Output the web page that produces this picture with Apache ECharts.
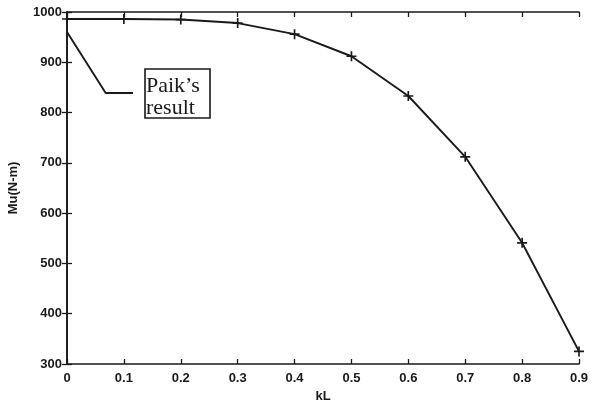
<!DOCTYPE html>
<html>
<head>
<meta charset="utf-8">
<script src="https://cdn.jsdelivr.net/npm/echarts@6/dist/echarts.min.js"></script>
<style>html,body{margin:0;padding:0;background:#fff;}#c{width:591px;height:402px;}</style>
</head>
<body>
<div id="c"></div>
<script>
var kL = [0, 0.1, 0.2, 0.3, 0.4, 0.5, 0.6, 0.7, 0.8, 0.9];
var Mu = [986, 986, 985, 978, 956, 912, 833, 712, 541, 325];
var paikX = [0, 0.068, 0.116];
var paikY = [960, 839, 839];
var xTicks = ['0', '0.1', '0.2', '0.3', '0.4', '0.5', '0.6', '0.7', '0.8', '0.9'];
var yTicks = ['300', '400', '500', '600', '700', '800', '900', '1000'];

var chart = echarts.init(document.getElementById('c'), null, {renderer: 'canvas'});
var ink = '#1a1a1a';
var labelFont = {color: ink, fontFamily: 'Liberation Sans', fontWeight: 'bold', fontSize: 13};
var nameFont = {color: ink, fontFamily: 'Liberation Sans', fontWeight: 'bold', fontSize: 13};
function mainData() { return kL.map(function (x, i) { return [x, Mu[i]]; }); }
function paikData() { return paikX.map(function (x, i) { return [x, paikY[i]]; }); }
var axisLine = {show: true, lineStyle: {color: ink, width: 1.6}};
var tick = {show: true, inside: true, length: 5, lineStyle: {color: ink, width: 1.3}};
chart.setOption({
  animation: false,
  backgroundColor: '#fff',
  grid: {left: 67, right: 12, top: 12, bottom: 38, containLabel: false, outerBoundsMode: 'none'},
  xAxis: [{
    type: 'value', min: 0, max: 0.9, interval: 0.1, position: 'bottom',
    axisLine: axisLine, axisTick: tick, splitLine: {show: false},
    axisLabel: Object.assign({margin: 8, formatter: function (v) {
      var i = Math.round(v * 10); return xTicks[i] !== undefined ? xTicks[i] : ''; }}, labelFont),
    name: 'kL', nameLocation: 'middle', nameGap: 26,
    nameTextStyle: nameFont
  }, {
    type: 'value', min: 0, max: 0.9, interval: 0.1, position: 'top',
    axisLine: axisLine, axisTick: tick, splitLine: {show: false}, axisLabel: {show: false}
  }],
  yAxis: [{
    type: 'value', min: 300, max: 1000, interval: 100, position: 'left',
    axisLine: axisLine, axisTick: tick, splitLine: {show: false},
    axisLabel: Object.assign({margin: 5, formatter: function (v) {
      var i = Math.round((v - 300) / 100); return yTicks[i] !== undefined ? yTicks[i] : ''; }}, labelFont),
    name: 'Mu(N-m)', nameLocation: 'middle', nameGap: 47, nameRotate: 90,
    nameTextStyle: nameFont
  }, {
    type: 'value', min: 300, max: 1000, interval: 100, position: 'right',
    axisLine: axisLine, axisTick: tick, splitLine: {show: false}, axisLabel: {show: false}
  }],
  series: [{
    type: 'line', data: mainData(), xAxisIndex: 0, yAxisIndex: 0,
    lineStyle: {color: ink, width: 1.9},
    symbol: 'path://M4,0 h1.6 v4 h4 v1.6 h-4 v4 h-1.6 v-4 h-4 v-1.6 h4 z',
    symbolSize: 10, showSymbol: true,
    itemStyle: {color: ink}
  }, {
    type: 'line', data: paikData(), xAxisIndex: 0, yAxisIndex: 0,
    lineStyle: {color: ink, width: 1.9}, symbol: 'none'
  }],
  graphic: [{
    type: 'rect', shape: {x: 145, y: 69, width: 65, height: 49},
    style: {fill: 'none', stroke: ink, lineWidth: 1.6}
  }, {
    type: 'text', left: 146, top: 75,
    style: {text: 'Paik\u2019s\nresult', fill: ink, font: '22px "Liberation Serif"', lineHeight: 22}
  }]
});
</script>
</body>
</html>
